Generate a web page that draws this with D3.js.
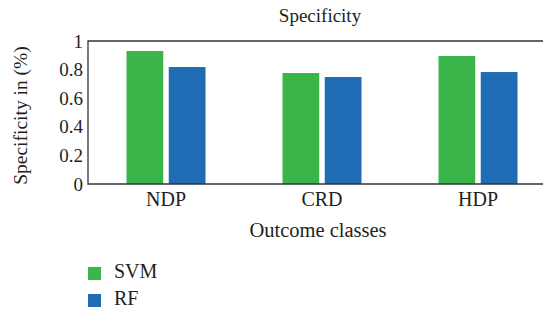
<!DOCTYPE html>
<html><head><meta charset="utf-8">
<script src="https://cdn.jsdelivr.net/npm/d3@7"></script>
<style>body{margin:0;background:#fff;overflow:hidden}svg{display:block}</style>
</head><body>
<script>
const categories = ["NDP", "CRD", "HDP"];
const seriesNames = ["SVM", "RF"];
const svmValues = [0.93, 0.776, 0.895];
const rfValues = [0.818, 0.748, 0.783];
const yTicks = [0, 0.2, 0.4, 0.6, 0.8, 1];
const yTickLabels = ["0", "0.2", "0.4", "0.6", "0.8", "1"];
const colors = ["#3bb54a", "#1f6cb4"];

(function () {
const W = 543, H = 310;
const pLeft = 88, pRight = 556, pTop = 41, pBottom = 184;
const font = "'Liberation Serif', 'DejaVu Serif', serif";
const ink = "#231f20";

const svg = d3.select("body").append("svg").attr("width", W).attr("height", H);

const x0 = d3.scaleBand().domain(categories).range([pLeft, pRight]).padding(0);
const half = 39.5;
const x1 = d3.scaleBand().domain(seriesNames)
  .range([x0.bandwidth()/2 - half, x0.bandwidth()/2 + half]).paddingInner(0.13);
const y = d3.scaleLinear().domain([0, 1]).range([pBottom, pTop]);

const data = categories.map((c, i) => ({cat: c, vals: [svmValues[i], rfValues[i]]}));

const g = svg.append("g");
data.forEach(d => {
  d.vals.forEach((v, j) => {
    g.append("rect")
      .attr("x", x0(d.cat) + x1(seriesNames[j]))
      .attr("y", y(v))
      .attr("width", x1.bandwidth())
      .attr("height", y(0) - y(v))
      .attr("fill", colors[j]);
  });
});

const frame = svg.append("g").attr("stroke", "#333").attr("stroke-width", 1.3).attr("fill", "none");
frame.append("path").attr("d", `M${pRight},${pTop}H${pLeft}V${pBottom}H${pRight}`);

const yAxis = d3.axisLeft(y).tickValues(yTicks).tickSize(0).tickPadding(5)
  .tickFormat((d, i) => yTickLabels[i]);
const ya = svg.append("g").attr("transform", `translate(${pLeft},0)`).call(yAxis);
ya.select(".domain").remove();
ya.selectAll("text").attr("font-family", font).attr("font-size", 19).attr("fill", ink);

const xAxis = d3.axisBottom(x0).tickSize(0).tickPadding(8);
const xa = svg.append("g").attr("transform", `translate(0,${pBottom})`).call(xAxis);
xa.select(".domain").remove();
xa.selectAll("text").attr("font-family", font).attr("font-size", 20).attr("fill", ink);

svg.append("text").attr("x", 320).attr("y", 22).attr("text-anchor", "middle")
  .attr("font-family", font).attr("font-size", 19).attr("fill", ink).text("Specificity");

svg.append("text").attr("x", 318).attr("y", 237).attr("text-anchor", "middle")
  .attr("font-family", font).attr("font-size", 20.5).attr("fill", ink).text("Outcome classes");

svg.append("text").attr("transform", `translate(27,${(pTop+pBottom)/2 + 3}) rotate(-90)`)
  .attr("text-anchor", "middle").attr("font-family", font).attr("font-size", 19.5)
  .attr("fill", ink).text("Specificity in (%)");

seriesNames.forEach((s, i) => {
  const ly = 267 + i * 27;
  svg.append("rect").attr("x", 88).attr("y", ly).attr("width", 13).attr("height", 13).attr("fill", colors[i]);
  svg.append("text").attr("x", 114).attr("y", ly + 11).attr("font-family", font)
    .attr("font-size", 20).attr("fill", ink).text(s);
});
})();
</script>
</body></html>
